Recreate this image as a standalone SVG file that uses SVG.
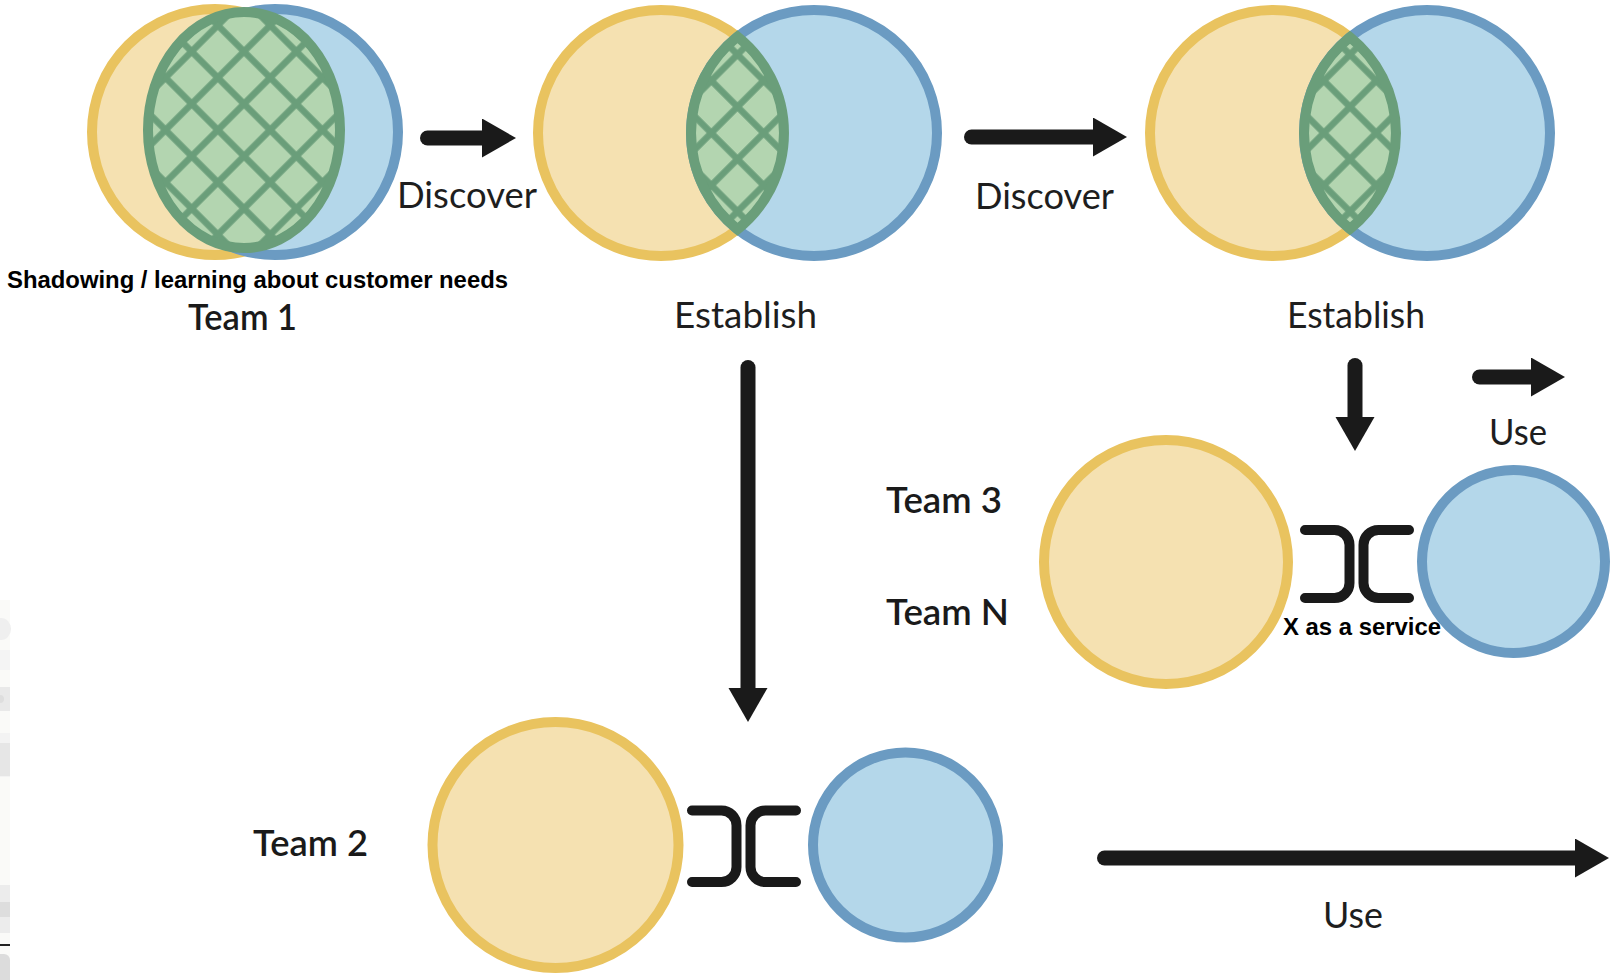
<svg xmlns="http://www.w3.org/2000/svg" width="1613" height="980" viewBox="0 0 1613 980">
  <defs>
    <style>
      .yl{fill:#f5e1b1;stroke:#e9c35f;stroke-width:10}
      .bl{fill:#b4d7ea;stroke:#6b9bc2;stroke-width:10}
      .lens{stroke:#6a9e7a;stroke-width:10;stroke-linejoin:miter;stroke-miterlimit:6}
      .lbl{font-family:Lato,"Open Sans","Liberation Sans",sans-serif;font-size:37px;fill:#1e1e1e}
      .team{font-weight:600;fill:#1a1a1a}
      .note{font-family:"Liberation Sans",Arial,sans-serif;font-weight:bold;font-size:24px;fill:#000}
      .arrow{fill:none;stroke:#1a1a1a;stroke-width:15;stroke-linecap:round;marker-end:url(#head)}
      .bracket{fill:none;stroke:#1a1a1a;stroke-width:10;stroke-linecap:round}
      .hl{stroke:#6a9e7a;stroke-width:6.5}
    </style>
    <marker id="head" markerUnits="userSpaceOnUse" viewBox="0 0 36 40" markerWidth="36" markerHeight="40" refX="0" refY="19.5" orient="auto">
      <path d="M0 0 L34 19.5 L0 39 Z" fill="#1a1a1a"/>
    </marker>
    <pattern id="hatch1" patternUnits="userSpaceOnUse" width="37" height="37" patternTransform="translate(244 130) rotate(45)">
      <rect width="37" height="37" fill="#b3d5b0"/>
      <path class="hl" d="M0 18.5H37M18.5 0V37"/>
    </pattern>
    <pattern id="hatch2" patternUnits="userSpaceOnUse" width="37" height="37" patternTransform="translate(737.5 133) rotate(45)">
      <rect width="37" height="37" fill="#b3d5b0"/>
      <path class="hl" d="M0 18.5H37M18.5 0V37"/>
    </pattern>
    <pattern id="hatch3" patternUnits="userSpaceOnUse" width="37" height="37" patternTransform="translate(1350 133) rotate(45)">
      <rect width="37" height="37" fill="#b3d5b0"/>
      <path class="hl" d="M0 18.5H37M18.5 0V37"/>
    </pattern>
  </defs>

  <rect width="1613" height="980" fill="#ffffff"/>

  <!-- slivers of a neighbouring panel along the left edge -->
  <g id="edge-slivers">
    <rect x="0" y="600" width="10" height="380" fill="#fafaf8"/>
    <path d="M0 618 H1 A10 11 0 0 1 1 640 H0 Z" fill="#efefef"/>
    <rect x="0" y="650" width="10" height="20" fill="#f4f4f4"/>
    <rect x="0" y="687" width="10" height="24" fill="#e9e9e9"/>
    <circle cx="0" cy="699" r="4" fill="#dedede"/>
    <rect x="0" y="733" width="10" height="44" fill="#f3f3f3"/>
    <path d="M0 743 H10 V776 H0 Z" fill="#e6e6e6"/>
    <rect x="0" y="885" width="10" height="48" fill="#ececec"/>
    <rect x="0" y="902" width="10" height="15" fill="#dddddd"/>
    <rect x="0" y="944" width="10" height="2" fill="#222222"/>
    <path d="M0 954 H4 A6 6 0 0 1 10 960 V980 H0 Z" fill="#dcdcdc"/>
  </g>

  <!-- Team 1: shadowing, overlap almost total -->
  <g id="team1">
    <circle class="yl" cx="215" cy="132" r="123"/>
    <circle class="bl" cx="275" cy="132" r="123"/>
    <ellipse class="lens" cx="244" cy="130" rx="96" ry="118" fill="url(#hatch1)"/>
    <text class="note" x="7" y="288" textLength="501" lengthAdjust="spacingAndGlyphs">Shadowing / learning about customer needs</text>
    <text class="lbl team" x="188" y="330" textLength="109" lengthAdjust="spacingAndGlyphs">Team 1</text>
  </g>

  <!-- Establish: partial overlap -->
  <g id="establish1">
    <circle class="yl" cx="661" cy="133" r="123"/>
    <circle class="bl" cx="814" cy="133" r="123"/>
    <path class="lens" fill="url(#hatch2)" d="M737.5 36.7 A123 123 0 0 1 737.5 229.3 A123 123 0 0 1 737.5 36.7 Z"/>
    <text class="lbl" x="674" y="328" textLength="143" lengthAdjust="spacingAndGlyphs">Establish</text>
  </g>

  <!-- Establish: second round -->
  <g id="establish2">
    <circle class="yl" cx="1273" cy="133" r="123"/>
    <circle class="bl" cx="1427" cy="133" r="123"/>
    <path class="lens" fill="url(#hatch3)" d="M1350 37.1 A123 123 0 0 1 1350 228.9 A123 123 0 0 1 1350 37.1 Z"/>
    <text class="lbl" x="1287" y="328" textLength="138" lengthAdjust="spacingAndGlyphs">Establish</text>
  </g>

  <!-- Team 3 / Team N: consumed as a service -->
  <g id="team3">
    <text class="lbl team" x="886" y="513" textLength="116" lengthAdjust="spacingAndGlyphs">Team 3</text>
    <text class="lbl team" x="886" y="625" textLength="123" lengthAdjust="spacingAndGlyphs">Team N</text>
    <circle class="yl" cx="1166" cy="562" r="122"/>
    <circle class="bl" cx="1513.5" cy="561.5" r="91.5"/>
    <path class="bracket" d="M1305 530 H1334.5 A15 15 0 0 1 1349.5 545 V583 A15 15 0 0 1 1334.5 598 H1305"/>
    <path class="bracket" d="M1409 530 H1378.5 A15 15 0 0 0 1363.5 545 V583 A15 15 0 0 0 1378.5 598 H1409"/>
    <text class="note" x="1283" y="635" textLength="158" lengthAdjust="spacingAndGlyphs">X as a service</text>
  </g>

  <!-- Team 2: interface between the two -->
  <g id="team2">
    <text class="lbl team" x="253" y="856" textLength="115" lengthAdjust="spacingAndGlyphs">Team 2</text>
    <circle class="yl" cx="555.5" cy="845" r="123"/>
    <circle class="bl" cx="905.5" cy="845" r="92.5"/>
    <path class="bracket" d="M692 810.5 H721.5 A15 15 0 0 1 736.5 825.5 V867 A15 15 0 0 1 721.5 882 H692"/>
    <path class="bracket" d="M796 810.5 H765.5 A15 15 0 0 0 750.5 825.5 V867 A15 15 0 0 0 765.5 882 H796"/>
  </g>

  <!-- flow arrows and their labels -->
  <g id="connectors">
    <path class="arrow" d="M427.5 138 H482"/>
    <text class="lbl" x="397" y="208" textLength="140" lengthAdjust="spacingAndGlyphs">Discover</text>
    <path class="arrow" d="M971.5 137 H1093"/>
    <text class="lbl" x="975" y="209" textLength="139" lengthAdjust="spacingAndGlyphs">Discover</text>
    <path class="arrow" d="M748 367.5 V688"/>
    <path class="arrow" d="M1355 365.5 V417"/>
    <path class="arrow" d="M1479.5 377 H1531"/>
    <text class="lbl" x="1489" y="445" textLength="58" lengthAdjust="spacingAndGlyphs">Use</text>
    <path class="arrow" d="M1104.5 858 H1575"/>
    <text class="lbl" x="1323" y="928" textLength="60" lengthAdjust="spacingAndGlyphs">Use</text>
  </g>
</svg>
